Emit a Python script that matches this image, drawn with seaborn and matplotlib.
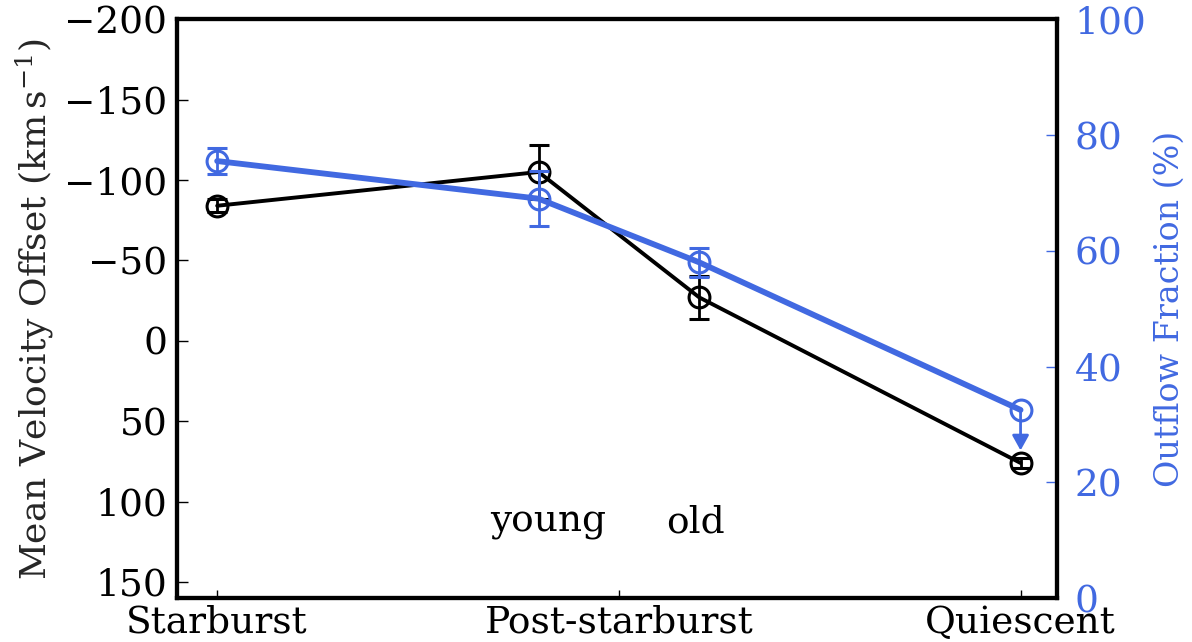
import matplotlib
matplotlib.use("Agg")
import matplotlib.pyplot as plt
import seaborn as sns
import pandas as pd

# Galaxy classes along the x axis
categories = ["Starburst", "Post-starburst", "Quiescent"]
cat_pos = [0, 1, 2]

# Positions of the sub-samples (starburst, young PSB, old PSB, quiescent)
sample_x = [0.0, 0.8, 1.2, 2.0]
sample_names = ["Starburst", "young", "old", "Quiescent"]

# Mean velocity offset (km/s) with errors
velocity = [-84, -105, -27, 76]
velocity_err = [4, 17, 13.5, 3]

# Outflow fraction (%) with errors; the last one is an upper limit
outflow = [75.5, 69, 58, 32.5]
outflow_err = [2.2, 4.8, 2.5, 0]
outflow_limit_len = 7

# Annotation placement for the post-starburst sub-sample names
subsample_labels = ["young", "old"]
subsample_label_x = [0.823, 1.19]
subsample_label_y = 113

blue = "#4169E1"
fs = 27

sns.set_style("ticks")
plt.rcParams["font.family"] = ["DejaVu Serif"]
plt.rcParams["mathtext.fontset"] = "dejavuserif"

fig = plt.figure(figsize=(11.92, 6.42), dpi=100)
ax = fig.add_axes([0.1485, 0.0685, 0.738, 0.9015])
ax2 = ax.twinx()

df = pd.DataFrame({"x": sample_x, "vel": velocity, "frac": outflow, "name": sample_names})

sns.lineplot(data=df, x="x", y="vel", ax=ax, color="black", lw=2.8,
             marker="o", markersize=15, markerfacecolor="none",
             markeredgecolor="black", markeredgewidth=2.2, sort=False)
ax.errorbar(sample_x, velocity, yerr=velocity_err, fmt="none", ecolor="black",
            elinewidth=2, capsize=7.5, capthick=2.2)

sns.lineplot(data=df, x="x", y="frac", ax=ax2, color=blue, lw=4.2,
             marker="o", markersize=15, markerfacecolor="none",
             markeredgecolor=blue, markeredgewidth=2.2, sort=False)
ax2.errorbar(sample_x[:3], outflow[:3], yerr=outflow_err[:3], fmt="none",
             ecolor=blue, elinewidth=2, capsize=7.5, capthick=2.2)
ax2.annotate("", xy=(sample_x[3], outflow[3] - outflow_limit_len),
             xytext=(sample_x[3], outflow[3]),
             arrowprops=dict(arrowstyle="-|>,head_length=0.9,head_width=0.5",
                             color=blue, lw=2, shrinkA=0, shrinkB=0))

for name, xv in zip(subsample_labels, subsample_label_x):
    ax.text(xv, subsample_label_y, name, ha="center", va="center",
            fontsize=fs, color="black")

ax.set_xlim(-0.1, 2.09)
ax.set_ylim(160, -200)
ax2.set_ylim(0, 100)

ax.set_xticks(cat_pos)
ax.set_xticklabels(categories)
ax.set_yticks([-200, -150, -100, -50, 0, 50, 100, 150])
ax2.set_yticks([0, 20, 40, 60, 80, 100])

ax.set_xlabel("")
ax.set_ylabel(r"Mean Velocity Offset $(\mathrm{km\,s^{-1}})$", fontsize=26, labelpad=6)
ax2.set_ylabel("Outflow Fraction (%)", fontsize=24, color=blue, labelpad=5)

ax.tick_params(axis="both", direction="in", labelsize=fs, length=8, width=1,
               colors="black", pad=7)
ax.tick_params(axis="x", length=6, pad=5)
ax2.tick_params(axis="y", direction="in", labelsize=fs, length=8, width=1,
                colors=blue, pad=13)

for a in (ax, ax2):
    for s in a.spines.values():
        s.set_linewidth(3)
        s.set_color("black")
        s.set_visible(True)

fig.savefig("out.png", dpi=100)
